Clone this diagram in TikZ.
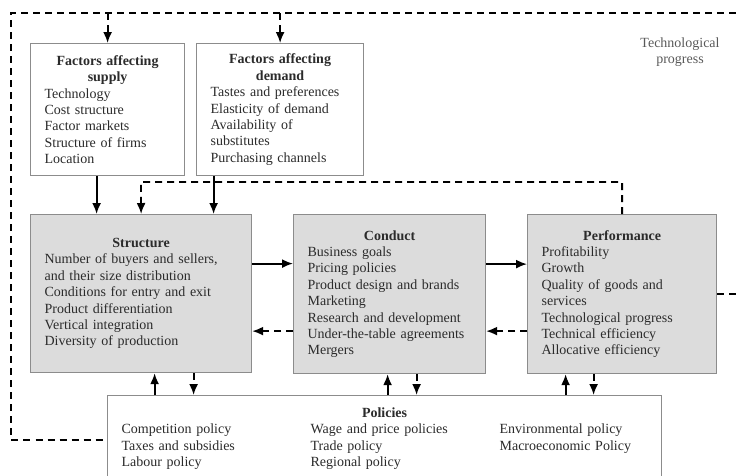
\documentclass[tikz,border=0pt]{standalone}
\usepackage{fontspec}
\setmainfont{Liberation Serif}
\usetikzlibrary{arrows.meta,calc}

\definecolor{boxgray}{HTML}{DCDCDC}
\definecolor{edgegray}{HTML}{8C8C8C}
\definecolor{inkgray}{HTML}{2B2B2B}
\newcommand{\boxtitle}[1]{\makebox[\hsize]{\bfseries #1}}

\begin{document}
\begin{tikzpicture}[x=1pt, y=-1pt, >={Latex[length=11pt,width=9pt]},
    font=\fontsize{14}{16.4}\selectfont, text=inkgray,
    factor/.style={draw=edgegray, line width=1.2pt, fill=white, align=left,
        inner xsep=14pt, anchor=north west},
    scp/.style={factor, fill=boxgray},
    flow/.style={->, line width=1.8pt},
    fback/.style={->, line width=1.8pt, dash pattern=on 7pt off 5pt},
    fline/.style={line width=1.8pt, dash pattern=on 7pt off 5pt}]
    \useasboundingbox (0,0) rectangle (737,475);
    \clip (0,0) rectangle (737,475);

    \coordinate (tl) at (11,13);
    \coordinate (tr) at (760,13);
    \coordinate (fb) at (141,182);

    % factor boxes
    \node[factor, text width=126pt, minimum height=132pt] (sup) at (30,43)
        {\boxtitle{Factors affecting}\\ \boxtitle{supply}\\ Technology\\ Cost structure\\
         Factor markets\\ Structure of firms\\ Location};
    \node[factor, text width=139pt, minimum height=132pt] (dem) at (196,43)
        {\boxtitle{Factors affecting}\\ \boxtitle{demand}\\ Tastes and preferences\\
         Elasticity of demand\\ Availability of\\ substitutes\\ Purchasing channels};

    % structure, conduct, performance
    \node[scp, text width=193pt, minimum height=158pt] (str) at (30,214)
        {\boxtitle{Structure}\\ Number of buyers and sellers,\\ and their size distribution\\
         Conditions for entry and exit\\ Product differentiation\\ Vertical integration\\
         Diversity of production};
    \node[scp, text width=164pt, minimum height=159pt] (con) at (293,214)
        {\boxtitle{Conduct}\\ Business goals\\ Pricing policies\\ Product design and brands\\
         Marketing\\ Research and development\\ Under-the-table agreements\\ Mergers};
    \node[scp, text width=161pt, minimum height=159pt] (perf) at (527,214)
        {\boxtitle{Performance}\\ Profitability\\ Growth\\ Quality of goods and\\ services\\
         Technological progress\\ Technical efficiency\\ Allocative efficiency};

    % policies
    \node[factor, text width=526pt, minimum height=88pt] (pol) at (107,395)
        {\boxtitle{Policies}\\
         \begin{tabular}[t]{@{}p{189pt}@{}p{189pt}@{}l@{}}
         Competition policy & Wage and price policies & Environmental policy\\
         Taxes and subsidies & Trade policy & Macroeconomic Policy\\
         Labour policy & Regional policy &
         \end{tabular}};

    \node[text=gray!70!black, align=center] (tech) at (680,52) {Technological\\progress};

    % technological progress loop
    \draw[fline] (perf.east) -- (perf.east -| tr) |- (tl) |- (pol.west);
    \draw[fback] (sup.north |- tl) -- (sup.north);
    \draw[fback] (dem.north |- tl) -- (dem.north);

    % into structure
    \draw[flow] ([xshift=-11pt]sup.south) -- ([xshift=-11pt]sup.south |- str.north);
    \draw[flow] ([xshift=-66.5pt]dem.south) -- ([xshift=-66.5pt]dem.south |- str.north);
    \draw[fback] (perf.north) |- (fb) -- (str.north);

    % structure - conduct - performance
    \draw[flow] ([yshift=30pt]str.east) -- ([yshift=30pt]str.east -| con.west);
    \draw[flow] ([yshift=30pt]con.east) -- ([yshift=30pt]con.east -| perf.west);
    \draw[fback] ([yshift=-37pt]con.west) -- ([yshift=-37pt]con.west -| str.east);
    \draw[fback] ([yshift=-37pt]perf.west) -- ([yshift=-37pt]perf.west -| con.east);

    % policies
    \draw[flow] ([xshift=13.5pt]str.south |- pol.north) -- ([xshift=13.5pt]str.south);
    \draw[fback] ([xshift=52.5pt]str.south) -- ([xshift=52.5pt]str.south |- pol.north);
    \draw[flow] ([xshift=-2pt]con.south |- pol.north) -- ([xshift=-2pt]con.south);
    \draw[fback] ([xshift=27pt]con.south) -- ([xshift=27pt]con.south |- pol.north);
    \draw[flow] ([xshift=-56.5pt]perf.south |- pol.north) -- ([xshift=-56.5pt]perf.south);
    \draw[fback] ([xshift=-28.5pt]perf.south) -- ([xshift=-28.5pt]perf.south |- pol.north);
\end{tikzpicture}
\end{document}
